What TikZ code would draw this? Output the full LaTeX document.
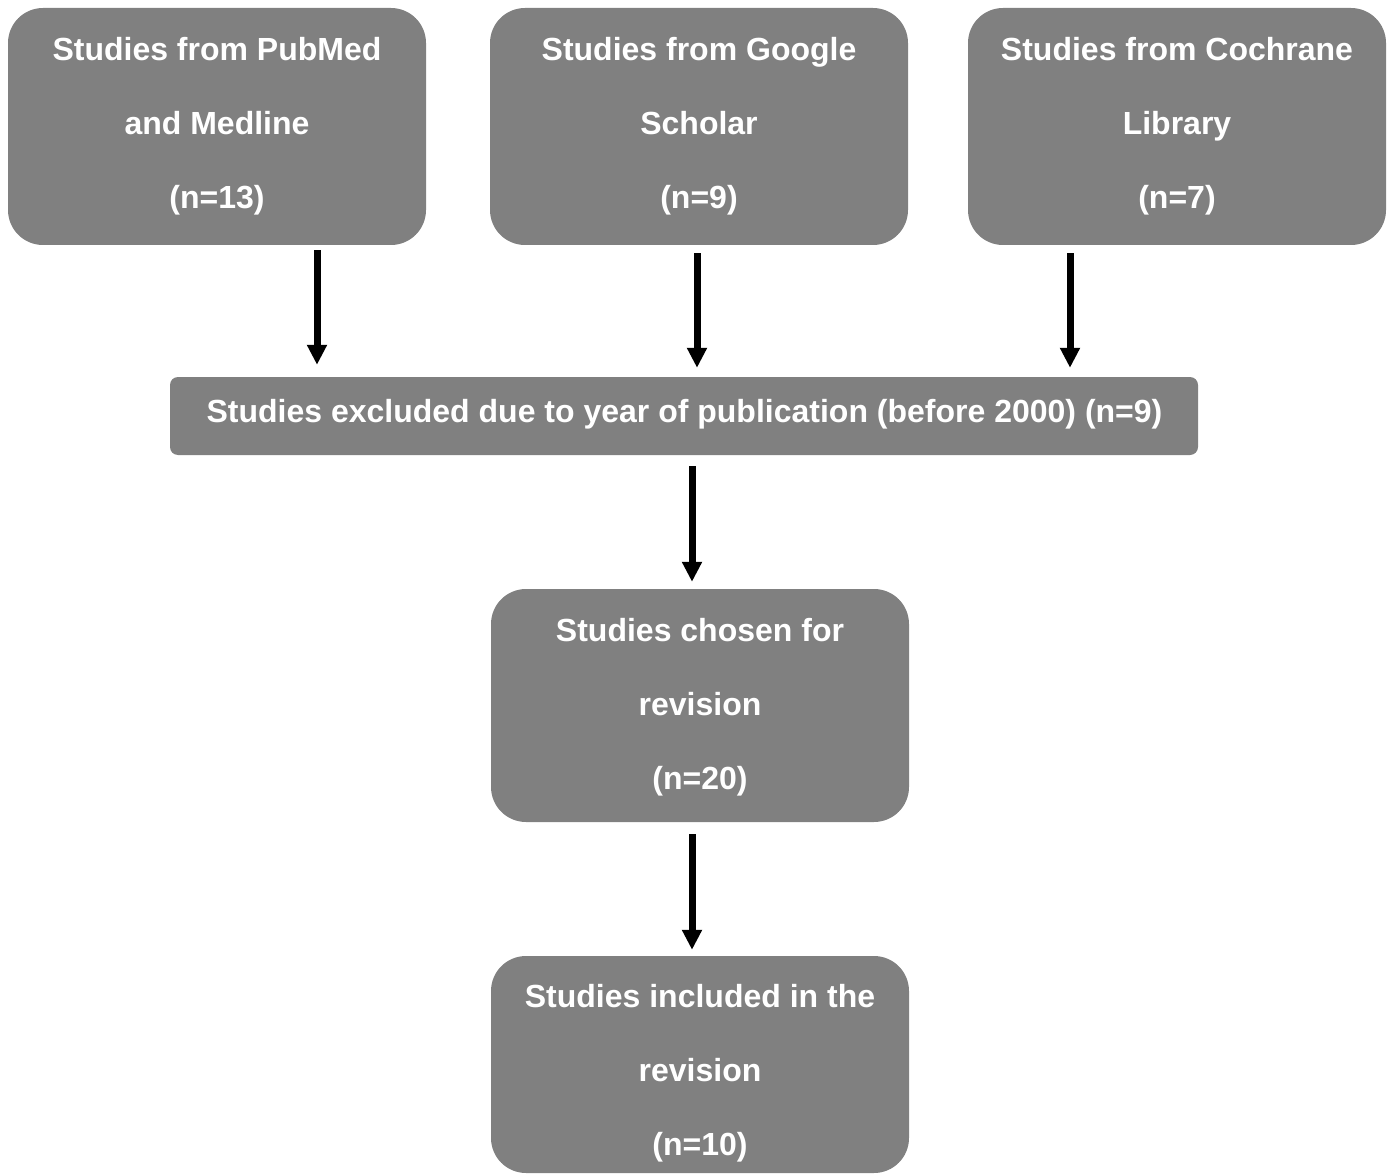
\documentclass[tikz,border=0pt]{standalone}
\usepackage{fontspec}
\setmainfont{Liberation Sans}
\usetikzlibrary{arrows.meta,calc}
\definecolor{boxgray}{RGB}{128,128,128}
\begin{document}
\begin{tikzpicture}[x=1pt,y=-1pt,
  bigbox/.style={fill=boxgray,draw=none,rounded corners=35pt,minimum width=418pt,inner sep=0pt},
  widebox/.style={fill=boxgray,draw=none,rounded corners=8pt,minimum width=1028pt,minimum height=78pt,inner sep=0pt},
  boxtext/.style={text=white,font=\bfseries\fontsize{32}{74}\selectfont,align=center,inner sep=0pt},
  arr/.style={line width=7pt,-{Triangle[length=20pt,width=19pt]}}]
\useasboundingbox (0,0) rectangle (1392,1174);
% boxes
\node[bigbox,minimum height=237pt] (b1) at (217,126.5) {};
\node[bigbox,minimum height=237pt] (b2) at (699,126.5) {};
\node[bigbox,minimum height=237pt] (b3) at (1177,126.5) {};
\node[widebox] (wide) at (684,416) {};
\node[bigbox,minimum height=233pt] (b4) at (700,705.5) {};
\node[bigbox,minimum height=217pt] (b5) at (700,1064.5) {};
% texts
\node[boxtext] (t1) at (217,126) {Studies from PubMed\\and Medline\\(n=13)};
\node[boxtext] (t2) at (699,126) {Studies from Google\\Scholar\\(n=9)};
\node[boxtext] (t3) at (1177,126) {Studies from Cochrane\\Library\\(n=7)};
\node[boxtext] (tw) at (684.5,414) {Studies excluded due to year of publication (before 2000) (n=9)};
\node[boxtext] (t4) at (700,707) {Studies chosen for\\revision\\(n=20)};
\node[boxtext] (t5) at (700,1073.5) {Studies included in the\\revision\\(n=10)};
% arrows
\draw[arr] ([xshift=100pt,yshift=-5pt]b1.south) -- ([xshift=100pt,yshift=12pt]b1.south |- wide.north);
\draw[arr] ([xshift=-2pt,yshift=-8pt]b2.south) -- ([xshift=-2pt,yshift=9pt]b2.south |- wide.north);
\draw[arr] ([xshift=-107pt,yshift=-8pt]b3.south) -- ([xshift=-107pt,yshift=9pt]b3.south |- wide.north);
\draw[arr] ([xshift=-8pt,yshift=-11pt]wide.south -| b4.south) -- ([xshift=-8pt,yshift=7pt]b4.north);
\draw[arr] ([xshift=-8pt,yshift=-12pt]b4.south) -- ([xshift=-8pt,yshift=6pt]b5.north);
\end{tikzpicture}
\end{document}
